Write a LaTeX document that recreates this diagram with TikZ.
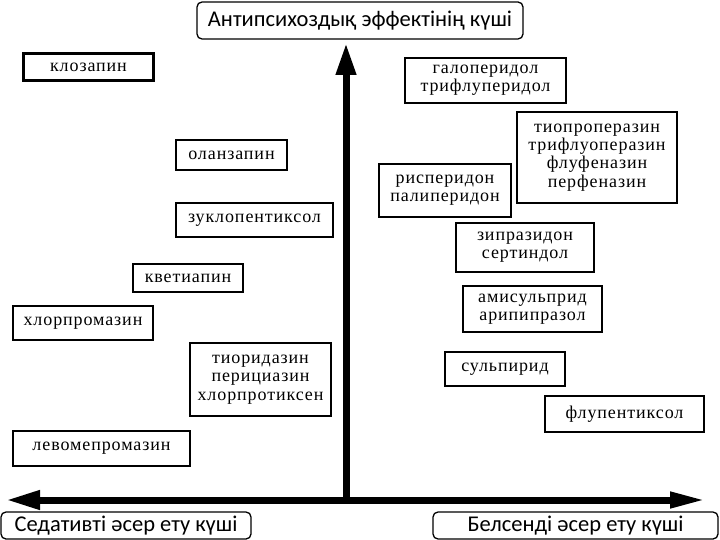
\documentclass[tikz,border=0pt]{standalone}
\usepackage{fontspec}
\setmainfont{Liberation Serif}[LetterSpace=5]
\newfontfamily\labfont{Carlito}
\usetikzlibrary{arrows.meta}
\tikzset{
  drug/.style={draw=black, line width=1.2pt, fill=white, inner sep=0pt, align=center,
    font=\fontsize{18}{18.3}\selectfont},
  thickdrug/.style={drug, line width=3.5pt},
  axislabel/.style={draw=black, line width=1.3pt, rounded corners=5pt, inner sep=0pt,
    font=\labfont\fontsize{22.5}{24}\selectfont},
  axisline/.style={line width=7pt, -{Triangle[length=32pt,width=19pt]}},
}
\begin{document}
\begin{tikzpicture}[x=1pt,y=-1pt]
\useasboundingbox (0,0) rectangle (720,540);
% axes
\coordinate (O) at (346,500);
\coordinate (top) at (346,43);
\coordinate (L) at (6,500);
\coordinate (R) at (706,500);
\draw[line width=7pt, {Triangle[length=34pt,width=18pt]}-{Triangle[length=36pt,width=15pt]}] (L) -- (R);
\draw[axisline] (O) -- (top);
% axis labels
\node[axislabel, minimum width=326pt, minimum height=37pt] (title) at (360,20.5) {Антипсихоздық эффектінің күші};
\node[axislabel, minimum width=250pt, minimum height=27pt] (sed) at (126,525.5) {Седативті әсер ету күші};
\node[axislabel, minimum width=285pt, minimum height=27pt] (bel) at (575.5,525.5) {Белсенді әсер ету күші};
% left drugs
\node[thickdrug, minimum width=130pt, minimum height=27pt] (kloz) at (88.5,67) {клозапин};
\node[drug, minimum width=111pt, minimum height=30pt] (olan) at (231.5,155) {оланзапин};
\node[drug, minimum width=157pt, minimum height=34pt] (zuk) at (254.5,220) {зуклопентиксол};
\node[drug, minimum width=110pt, minimum height=28pt] (kvet) at (188,278) {кветиапин};
\node[drug, minimum width=140pt, minimum height=34pt] (hlor) at (83,323) {хлорпромазин};
\node[drug, minimum width=141pt, minimum height=73pt] (tior) at (260.5,379.5) {тиоридазин\\перициазин\\хлорпротиксен};
\node[drug, minimum width=177pt, minimum height=35pt] (levo) at (101.5,448.5) {левомепромазин};
% right drugs
\node[drug, minimum width=161pt, minimum height=45pt] (galo) at (485.5,80.5) {галоперидол\\трифлуперидол};
\node[drug, minimum width=160pt, minimum height=91pt] (tiop) at (597,157.5) {тиопроперазин\\трифлуоперазин\\флуфеназин\\перфеназин};
\node[drug, minimum width=132pt, minimum height=53pt] (risp) at (445,190.5) {рисперидон\\палиперидон};
\node[drug, minimum width=138pt, minimum height=49pt] (zipr) at (525,247.5) {зипразидон\\сертиндол};
\node[drug, minimum width=139pt, minimum height=46pt] (amis) at (532.5,309) {амисульприд\\арипипразол};
\node[drug, minimum width=120pt, minimum height=34pt] (sulp) at (505,369) {сульпирид};
\node[drug, minimum width=159pt, minimum height=36pt] (flup) at (624.5,414) {флупентиксол};
\end{tikzpicture}
\end{document}
